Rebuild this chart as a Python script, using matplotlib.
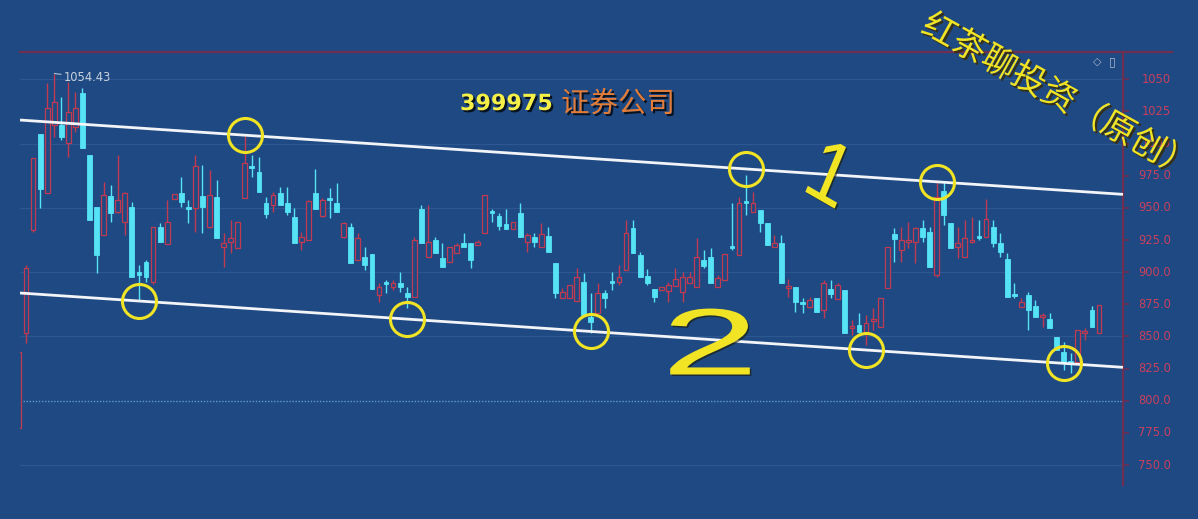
import numpy as np
import matplotlib
matplotlib.use('Agg')
import matplotlib.pyplot as plt
import matplotlib.patheffects as pe
from matplotlib.transforms import blended_transform_factory, Affine2D
from matplotlib.lines import Line2D

# ---------------- data ----------------
opens = [778.8, 852.7, 932.8, 1007.5, 961.6, 1014.5, 1014.5, 1000.3, 1012.9, 1039.3,
         991.1, 950.7, 928.9, 959.2, 946.8, 939.0, 950.7, 900.1, 907.9, 892.4,
         935.1, 921.9, 956.9, 961.6, 950.7, 949.9, 959.2, 935.1, 958.5, 919.6,
         923.5, 918.8, 957.7, 982.6, 977.9, 953.8, 952.3, 961.6, 953.8, 942.9,
         923.5, 925.0, 961.6, 943.7, 957.7, 953.8, 927.4, 935.1, 909.5, 911.8,
         914.1, 882.2, 892.4, 888.5, 891.6, 883.8, 880.7, 949.1, 911.8, 925.0,
         911.0, 907.9, 914.9, 922.7, 922.7, 921.1, 930.5, 947.6, 943.7, 937.5,
         933.6, 946.0, 923.5, 927.4, 919.6, 928.1, 907.1, 879.9, 879.9, 877.6,
         892.4, 865.1, 868.2, 883.8, 893.1, 892.4, 901.7, 934.4, 913.3, 897.0,
         886.9, 886.1, 885.4, 889.2, 884.6, 891.6, 888.5, 909.5, 911.8, 888.5,
         893.9, 920.4, 913.3, 955.4, 946.8, 948.3, 938.3, 919.6, 922.7, 887.7,
         888.5, 876.8, 872.9, 879.9, 870.6, 886.9, 879.1, 886.1, 856.6, 858.9,
         853.5, 862.0, 857.4, 887.7, 929.7, 917.2, 923.5, 923.5, 934.4, 931.3,
         897.8, 963.1, 938.3, 919.6, 911.8, 923.5, 928.1, 927.4, 935.1, 922.7,
         910.2, 883.0, 872.9, 882.2, 873.7, 865.1, 863.6, 849.6, 837.9, 830.9,
         830.1, 852.7, 870.6, 852.7]
highs = [837.9, 905.6, 988.8, 1007.5, 1047.1, 1054.43, 1036.2, 1047.9, 1040.1, 1043.2,
         991.1, 950.7, 970.1, 967.8, 991.1, 962.3, 954.6, 905.6, 909.5, 935.1,
         938.3, 956.1, 960.8, 974.0, 956.1, 991.1, 983.4, 979.5, 971.7, 930.5,
         940.6, 939.0, 1006.7, 991.1, 989.6, 958.5, 962.3, 966.2, 966.2, 949.9,
         931.3, 956.1, 980.2, 957.7, 965.5, 969.3, 939.0, 938.3, 930.5, 919.6,
         914.1, 891.6, 893.9, 893.9, 900.1, 888.5, 927.4, 952.3, 952.3, 927.4,
         922.7, 919.6, 922.7, 930.5, 922.7, 925.0, 960.0, 949.1, 946.0, 949.1,
         939.0, 953.8, 930.5, 930.5, 938.3, 935.1, 907.1, 887.7, 890.0, 903.2,
         899.4, 883.8, 891.6, 886.1, 900.1, 905.6, 940.6, 940.6, 915.7, 902.5,
         886.9, 888.5, 892.4, 903.2, 900.1, 900.1, 926.6, 917.2, 918.8, 897.8,
         914.1, 953.8, 958.5, 975.6, 962.3, 948.3, 938.3, 928.9, 928.9, 894.7,
         888.5, 879.9, 880.7, 879.9, 893.9, 893.9, 891.6, 886.1, 862.8, 868.2,
         866.7, 872.1, 879.9, 919.6, 934.4, 935.1, 939.0, 935.1, 940.6, 935.1,
         971.7, 970.1, 938.3, 935.1, 940.6, 942.9, 940.6, 956.9, 940.6, 930.5,
         914.9, 891.6, 879.9, 884.6, 878.3, 868.2, 868.2, 849.6, 845.7, 837.1,
         855.0, 856.6, 873.7, 874.5]
lows = [778.8, 844.9, 931.3, 949.9, 961.6, 1005.1, 1002.8, 989.6, 1009.0, 996.6,
        940.6, 899.4, 928.9, 939.0, 946.0, 928.9, 896.3, 878.3, 892.4, 890.8,
        923.5, 921.9, 956.9, 950.7, 938.3, 931.3, 930.5, 934.4, 926.6, 904.0,
        914.9, 918.8, 957.7, 974.0, 962.3, 942.1, 946.8, 952.3, 944.5, 922.7,
        917.2, 925.0, 949.1, 942.9, 942.1, 946.8, 926.6, 907.1, 909.5, 901.7,
        886.9, 876.8, 883.8, 886.1, 884.6, 872.1, 880.7, 922.7, 911.8, 914.9,
        904.0, 907.9, 914.9, 919.6, 903.2, 921.1, 930.5, 939.0, 932.8, 933.6,
        933.6, 927.4, 915.7, 919.6, 919.6, 915.7, 879.9, 879.9, 879.9, 877.6,
        866.7, 852.7, 868.2, 872.1, 886.1, 890.0, 901.7, 914.9, 896.3, 890.0,
        876.8, 886.1, 876.8, 889.2, 876.8, 891.6, 888.5, 903.2, 891.6, 888.5,
        893.9, 917.2, 913.3, 944.5, 946.8, 931.3, 921.1, 919.6, 891.6, 880.7,
        869.0, 868.2, 872.1, 869.0, 864.3, 879.9, 879.1, 852.7, 851.1, 852.7,
        843.3, 855.0, 857.4, 887.7, 907.9, 907.9, 918.8, 907.1, 923.5, 904.0,
        896.3, 936.7, 918.8, 911.0, 911.8, 922.7, 925.0, 927.4, 919.6, 911.8,
        880.7, 879.9, 872.9, 855.0, 865.1, 857.4, 856.6, 839.5, 823.9, 821.6,
        830.1, 847.2, 857.4, 852.7]
closes = [837.9, 903.2, 988.8, 964.7, 1027.7, 1032.3, 1005.1, 1024.6, 1027.7, 996.6,
          940.6, 913.3, 960.0, 946.0, 956.1, 961.6, 896.3, 897.8, 896.3, 935.1,
          923.5, 939.0, 960.8, 954.6, 949.1, 982.6, 950.7, 960.0, 926.6, 922.7,
          926.6, 939.0, 984.9, 981.0, 962.3, 945.2, 960.0, 952.3, 946.8, 922.7,
          927.4, 955.4, 949.1, 956.1, 956.1, 946.8, 938.3, 907.1, 926.6, 905.6,
          886.9, 888.5, 890.8, 891.6, 888.5, 880.7, 925.0, 922.7, 923.5, 914.9,
          904.0, 919.6, 921.1, 919.6, 909.5, 923.5, 960.0, 946.0, 935.9, 933.6,
          939.0, 927.4, 928.9, 923.5, 929.7, 915.7, 883.8, 884.6, 890.0, 896.3,
          866.7, 861.2, 883.8, 879.9, 891.6, 896.3, 930.5, 914.9, 896.3, 891.6,
          880.7, 888.5, 890.0, 894.7, 896.3, 896.3, 911.8, 904.8, 891.6, 895.5,
          914.1, 918.8, 953.8, 953.8, 953.8, 938.3, 921.1, 922.7, 891.6, 889.2,
          876.8, 875.2, 878.3, 869.0, 891.6, 883.0, 890.0, 852.7, 858.1, 853.5,
          860.4, 863.6, 879.9, 919.6, 925.8, 925.0, 925.0, 934.4, 927.4, 904.0,
          958.5, 944.5, 918.8, 922.7, 926.6, 925.0, 926.6, 941.4, 922.7, 915.7,
          880.7, 881.5, 876.8, 870.6, 865.1, 866.7, 856.6, 839.5, 830.1, 829.3,
          855.0, 854.2, 857.4, 874.5]

tick_values = [1050, 1025, 1000, 975, 950, 925, 900, 875, 850, 825, 800, 775, 750]
tick_labels = ['1050', '1025', '1000', '975.0', '950.0', '925.0', '900.0',
               '875.0', '850.0', '825.0', '800.0', '775.0', '750.0']
grid_values = [1050, 1000, 950, 900, 850, 750]
dotted_value = 800

upper_channel = [1018.3, 960.5]   # channel line "1" (start, end)
lower_channel = [883.8, 826.0]    # channel line "2" (start, end)
touch_upper = [32, 103, 130]      # candles touching the upper line
touch_lower = [17, 55, 81, 120, 148]

peak_index = 5
peak_label = '1054.43'
title_code = '399975'
title_name = '证券公司'
watermark = '红茶聊投资（原创）'

# ---------------- style ----------------
BG = '#1f4982'
GRID = '#2c5790'
AXRED = '#6e2f52'
LABRED = '#c8405e'
UPRED = '#c23a52'
DNCYAN = '#55e3f5'
YELLOW = '#f0e424'
WHITE = '#f2f4f8'

W, H = 1198, 519
fig = plt.figure(figsize=(W / 100, H / 100), dpi=100, facecolor=BG)
ax = fig.add_axes([20 / W, 1 - 485 / H, (1123 - 20) / W, (485 - 52) / H])
ax.set_facecolor(BG)

n = len(opens)
assert len(highs) == n and len(lows) == n and len(closes) == n
x = np.arange(n)
o = np.array(opens); c = np.array(closes)
h = np.array(highs); l = np.array(lows)
up = c >= o

XL = (0.15, 156.4)
ax.set_xlim(*XL)
ax.set_ylim(734.5, 1071.2)

for s in ['left', 'top', 'bottom']:
    ax.spines[s].set_visible(False)
ax.spines['right'].set_color(AXRED)
ax.spines['right'].set_linewidth(1.6)

for v in grid_values:
    ax.axhline(v, color=GRID, lw=0.9, zorder=0)
ax.axhline(dotted_value, color='#5c9bd2', lw=1.0, ls=(0, (1, 1.2)), zorder=0)

# wicks
wick_cols = [UPRED if u else DNCYAN for u in up]
ax.vlines(x, l, h, colors=wick_cols, lw=1.0, zorder=2)
# bodies
bh = np.maximum(np.abs(c - o), 0.35)
bb = np.minimum(o, c)
ax.bar(x[up], bh[up], bottom=bb[up], width=0.68, facecolor=BG,
       edgecolor=UPRED, linewidth=0.9, zorder=3)
ax.bar(x[~up], bh[~up], bottom=bb[~up], width=0.68, facecolor=DNCYAN,
       edgecolor=DNCYAN, linewidth=0.6, zorder=3)

# channel lines
ax.plot(XL, upper_channel, color=WHITE, lw=2.0, zorder=4, solid_capstyle='butt')
ax.plot(XL, lower_channel, color=WHITE, lw=2.0, zorder=4, solid_capstyle='butt')

def chan(vals, i):
    return vals[0] + (vals[1] - vals[0]) * (i - XL[0]) / (XL[1] - XL[0])

cu = [chan(upper_channel, i) for i in touch_upper]
cl = [chan(lower_channel, i) for i in touch_lower]
ax.plot(touch_upper, cu, 'o', ms=24.5, mfc='none', mec=YELLOW, mew=2.2, zorder=5)
ax.plot(touch_lower, cl, 'o', ms=24.5, mfc='none', mec=YELLOW, mew=2.2, zorder=5)

# ticks
ax.set_xticks([])
ax.yaxis.tick_right()
ax.set_yticks(tick_values)
ax.tick_params(axis='y', direction='out', length=4, width=1.2, color=AXRED,
               labelright=False, labelleft=False)
trans = blended_transform_factory(fig.transFigure, ax.transData)
for v, lab in zip(tick_values, tick_labels):
    ax.text(1171 / W, v, lab, transform=trans, ha='right', va='center',
            color=LABRED, fontsize=8.3, clip_on=False)

# top rule
fig.add_artist(Line2D([20 / W, 1172 / W], [1 - 52 / H, 1 - 52 / H],
                      color=AXRED, lw=1.6))

# peak label
ax.annotate(peak_label, xy=(peak_index, highs[peak_index]), xytext=(7, -2.5),
            textcoords='offset points', ha='left', va='center', color='#c9d2de',
            fontsize=8.3, arrowprops=dict(arrowstyle='-', color='#c9d2de', lw=0.7,
                                          shrinkA=0, shrinkB=0))

# icons
fig.text(1097 / W, 1 - 62 / H, '◇', color='#a8b4c8', fontsize=8, ha='center', va='center')
fig.text(1112 / W, 1 - 62 / H, '▯', color='#a8b4c8', fontsize=9, ha='center', va='center')

shadow = [pe.withSimplePatchShadow(offset=(1.5, -1.5), shadow_rgbFace='black', alpha=0.75)]
fig.text(460 / W, 1 - 104 / H, title_code, color='#f4f048', fontsize=16,
         fontweight='bold', ha='left', va='center', family='DejaVu Sans',
         path_effects=shadow)
fig.text(561 / W, 1 - 104 / H, title_name, color='#e27c38', fontsize=20.5,
         ha='left', va='center', family=['Noto Sans CJK SC', 'DejaVu Sans'],
         path_effects=shadow)

fig.text(1058 / W, 1 - 97 / H, watermark, color=YELLOW, fontsize=24.5,
         rotation=-29, rotation_mode='anchor', ha='center', va='center',
         family=['Noto Sans CJK SC', 'DejaVu Sans'],
         path_effects=[pe.withSimplePatchShadow(offset=(1.5, -1.5),
                                                shadow_rgbFace='#3a2a00', alpha=0.8)])


class Stretch(pe.AbstractPathEffect):
    """Stretch a text path about its centre, with a soft shadow."""
    def __init__(self, sx=1.0, sy=1.0):
        super().__init__()
        self.sx, self.sy = sx, sy

    def draw_path(self, renderer, gc, tpath, affine, rgbFace=None):
        ext = tpath.get_extents(affine)
        cx = (ext.x0 + ext.x1) / 2
        cy = (ext.y0 + ext.y1) / 2
        aff = affine + Affine2D().translate(-cx, -cy).scale(self.sx, self.sy).translate(cx, cy)
        gc0 = renderer.new_gc()
        gc0.copy_properties(gc)
        renderer.draw_path(gc0, tpath, aff + Affine2D().translate(1.5, -1.5), (0.1, 0.1, 0.0, 0.6))
        gc0.restore()
        renderer.draw_path(gc, tpath, aff, rgbFace)


fig.text(828 / W, 1 - 179 / H, '1', color=YELLOW, fontsize=64, rotation=-26,
         ha='center', va='center', family='Liberation Sans',
         path_effects=[Stretch(0.85, 1.0)])
fig.text(710 / W, 1 - 350 / H, '2', color=YELLOW, fontsize=68,
         ha='center', va='center', family='Liberation Sans',
         path_effects=[Stretch(1.85, 1.0)])

fig.savefig('out.png', dpi=100, facecolor=BG)
